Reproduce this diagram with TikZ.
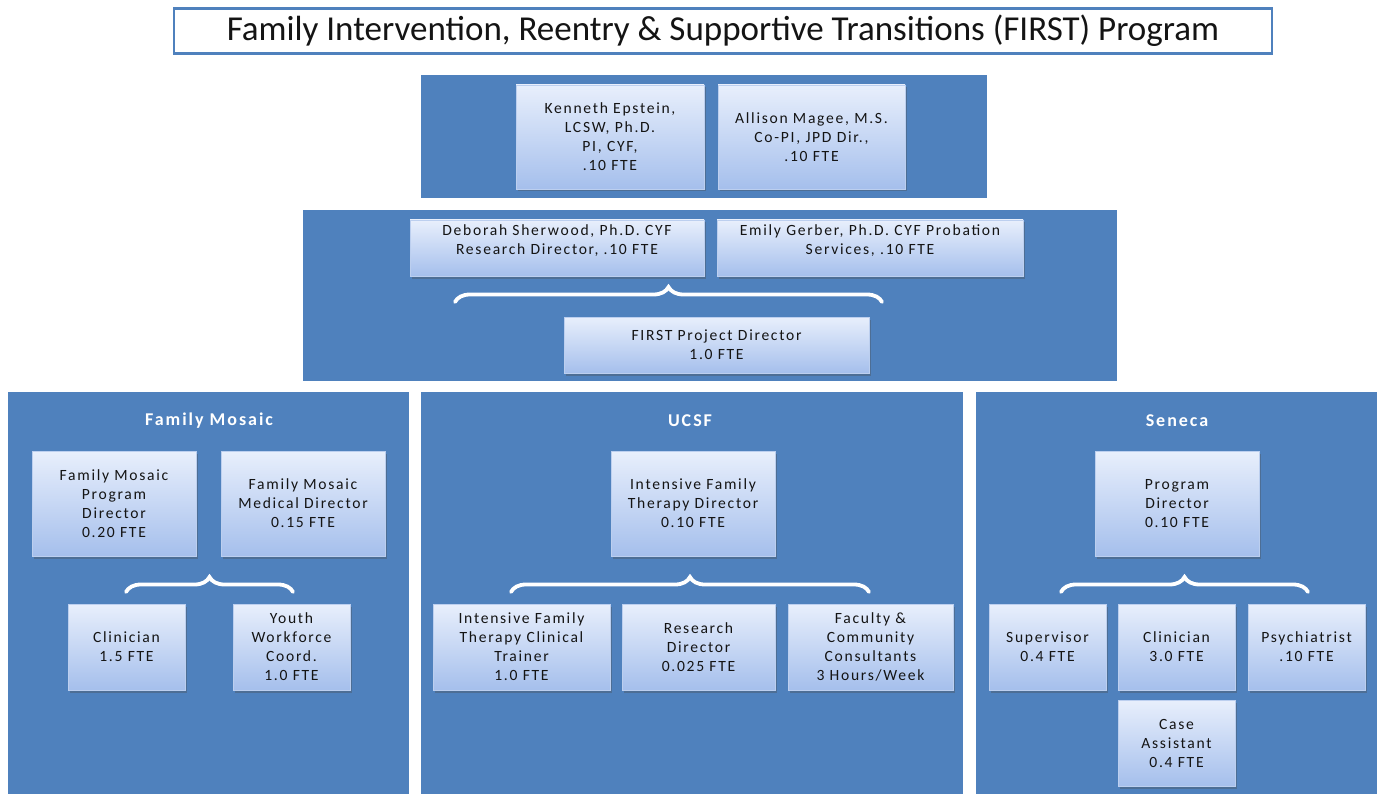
\documentclass[tikz,border=0pt]{standalone}
\usepackage{fontspec}
\setmainfont{Carlito}
\newfontfamily\boxfont{Carlito}[LetterSpace=11]
\usetikzlibrary{shadows,decorations.pathreplacing}
\definecolor{panelblue}{HTML}{4F81BD}
\definecolor{boxtop}{HTML}{E8EFFC}
\definecolor{boxbot}{HTML}{A5BFEC}
\definecolor{boxedge}{HTML}{BCCFEF}
\definecolor{inktext}{HTML}{141414}

% staff box given by its pixel corners: name, x1, y1, x2, y2, text
\newcommand\staffbox[6]{%
  \node[staff, minimum width={#4-#2}, minimum height={#5-#3}]
    (#1) at ({(#2+#4)/2},{-(#3+#5)/2}) {#6};}
% panel given by its pixel corners: name, x1, y1, x2, y2
\newcommand\panelbox[5]{%
  \node[panel, minimum width={#4-#2}, minimum height={#5-#3}]
    (#1) at ({(#2+#4)/2},{-(#3+#5)/2}) {};}

\begin{document}
\begin{tikzpicture}[x=1pt,y=1pt,
  panel/.style={fill=panelblue, draw=none, inner sep=0pt, outer sep=0pt},
  staff/.style={top color=boxtop, bottom color=boxbot, draw=boxedge,
    line width=0.5pt, inner sep=0pt, align=center, text=inktext,
    font=\boxfont\fontsize{15.6}{19}\selectfont,
    drop shadow={shadow xshift=2pt, shadow yshift=-2.5pt, opacity=0.35, fill=black!70}},
  stafftext/.style={align=center, text=inktext, inner sep=0pt,
    font=\boxfont\fontsize{15.6}{19}\selectfont},
  heading/.style={text=white, inner sep=0pt,
    font=\boxfont\bfseries\fontsize{18}{22}\selectfont},
  bracket/.style={draw=white, line width=3.8pt, line cap=round,
    decorate, decoration={brace, amplitude=15pt}},
]
\useasboundingbox[fill=white] (0,0) rectangle (1383,-794);

% programme title
\node[draw=panelblue, line width=2.8pt, fill=white, minimum width=1098,
  minimum height=45, inner sep=0pt, text=inktext,
  font=\fontsize{35}{42}\selectfont] (title) at (723,-31)
  {Family Intervention, Reentry \& Supportive Transitions (FIRST) Program};

% background panels
\panelbox{lead}{421}{75}{987}{198}
\panelbox{core}{303}{210}{1117}{381}
\panelbox{mosaic}{8}{392}{409}{794}
\panelbox{ucsf}{421}{392}{963}{794}
\panelbox{seneca}{976}{392}{1377}{794}

% leadership
\staffbox{epstein}{516}{85}{704}{189}{Kenneth Epstein,\\LCSW, Ph.D.\\PI, CYF,\\.10 FTE}
\staffbox{magee}{718}{85}{905}{189}{Allison Magee, M.S.\\Co-PI, JPD Dir.,\\.10 FTE}

% research and probation, project director
\staffbox{sherwood}{410}{220}{704}{276}{}
\node[stafftext, anchor=north] (sherwoodtxt) at ([yshift=-5]sherwood.north)
  {Deborah Sherwood, Ph.D. CYF\\Research Director, .10 FTE};
\staffbox{gerber}{717}{220}{1023}{276}{}
\node[stafftext, anchor=north] (gerbertxt) at ([yshift=-5]gerber.north)
  {Emily Gerber, Ph.D. CYF Probation\\Services, .10 FTE};
\coordinate (coreL) at (455,-302);
\coordinate (coreR) at (882,-302);
\draw[bracket] (coreL) -- (coreR);
\staffbox{projdir}{564}{317}{869}{373}{FIRST Project Director\\1.0 FTE}

% Family Mosaic
\node[heading] (mosaichead) at (209,-421) {Family Mosaic};
\staffbox{fmprog}{32}{451}{196}{556}{Family Mosaic\\Program\\Director\\0.20 FTE}
\staffbox{fmmed}{221}{451}{385}{556}{Family Mosaic\\Medical Director\\0.15 FTE}
\coordinate (fmL) at (126,-592);
\coordinate (fmR) at (293,-592);
\draw[bracket] (fmL) -- (fmR);
\staffbox{fmclin}{68}{604}{185}{690}{Clinician\\1.5 FTE}
\staffbox{fmyouth}{233}{604}{350}{690}{Youth\\Workforce\\Coord.\\1.0 FTE}

% UCSF
\node[heading] (ucsfhead) at (690,-421) {UCSF};
\staffbox{iftdir}{611}{451}{775}{556}{Intensive Family\\Therapy Director\\0.10 FTE}
\coordinate (ucL) at (511,-592);
\coordinate (ucR) at (869,-592);
\draw[bracket] (ucL) -- (ucR);
\staffbox{ifttrain}{433}{604}{610}{690}{Intensive Family\\Therapy Clinical\\Trainer\\1.0 FTE}
\staffbox{ucres}{622}{604}{775}{690}{Research\\Director\\0.025 FTE}
\staffbox{faculty}{788}{604}{953}{690}{Faculty \&\\Community\\Consultants\\3 Hours/Week}

% Seneca
\node[heading] (senecahead) at (1177,-421) {Seneca};
\staffbox{senprog}{1095}{451}{1259}{556}{Program\\Director\\0.10 FTE}
\coordinate (snL) at (1061,-592);
\coordinate (snR) at (1308,-592);
\draw[bracket] (snL) -- (snR);
\staffbox{supervisor}{989}{604}{1106}{690}{Supervisor\\0.4 FTE}
\staffbox{senclin}{1118}{604}{1235}{690}{Clinician\\3.0 FTE}
\staffbox{psych}{1248}{604}{1365}{690}{Psychiatrist\\.10 FTE}
\staffbox{caseasst}{1118}{700}{1235}{786}{Case\\Assistant\\0.4 FTE}
\end{tikzpicture}
\end{document}
